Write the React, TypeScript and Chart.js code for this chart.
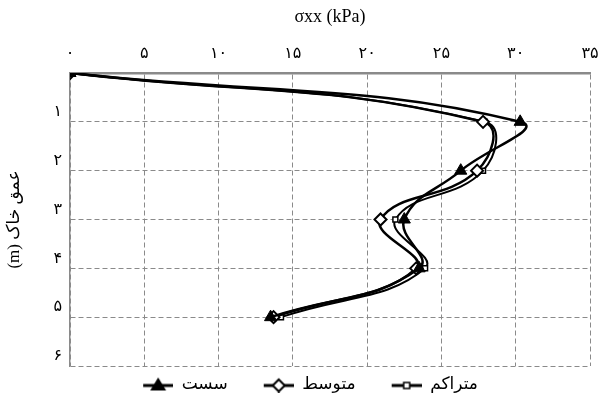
import React, { useEffect, useRef } from "react";
import { Chart, registerables } from "chart.js";

Chart.register(...registerables);

const depths = [0, 1, 2, 3, 4, 5];
const looseVals = [0, 30.3, 26.3, 22.5, 23.5, 13.5];
const mediumVals = [0, 27.8, 27.4, 20.9, 23.3, 13.7];
const denseVals = [0, 27.9, 27.8, 21.9, 23.9, 14.2];
const seriesNames = ["سست", "متوسط", "متراکم"];
const xTickLabels = ["۰", "۵", "۱۰", "۱۵", "۲۰", "۲۵", "۳۰", "۳۵"];
const yTickLabels = ["", "۱", "۲", "۳", "۴", "۵", "۶"];
const xTitle = "σxx (kPa)";
const yTitle = "\u202Bعمق خاک (m)\u202C";

const FONT = "'Liberation Serif', 'DejaVu Sans', serif";
const ICON_W = 56;
const ICON_PAD = 26;

function makeLegendIcon(kind: string): HTMLCanvasElement {
  const c = document.createElement("canvas");
  c.width = ICON_W;
  c.height = 16;
  const ctx = c.getContext("2d")!;
  const x0 = ICON_PAD;
  const cx = x0 + (ICON_W - x0) / 2;
  ctx.strokeStyle = "#000";
  ctx.lineWidth = 3;
  ctx.beginPath();
  ctx.moveTo(x0, 9);
  ctx.lineTo(ICON_W, 9);
  ctx.stroke();
  if (kind === "triangle") {
    ctx.fillStyle = "#000";
    ctx.beginPath();
    ctx.moveTo(cx, 1);
    ctx.lineTo(cx + 8, 14);
    ctx.lineTo(cx - 8, 14);
    ctx.closePath();
    ctx.fill();
  } else if (kind === "diamond") {
    ctx.fillStyle = "#fff";
    ctx.lineWidth = 2;
    ctx.beginPath();
    ctx.moveTo(cx, 3);
    ctx.lineTo(cx + 6, 9);
    ctx.lineTo(cx, 15);
    ctx.lineTo(cx - 6, 9);
    ctx.closePath();
    ctx.fill();
    ctx.stroke();
  } else {
    ctx.fillStyle = "#fff";
    ctx.lineWidth = 1.5;
    ctx.fillRect(cx - 3, 6, 6, 6);
    ctx.strokeRect(cx - 3, 6, 6, 6);
  }
  return c;
}

export default function App() {
  const ref = useRef<HTMLCanvasElement | null>(null);

  useEffect(() => {
    if (!ref.current) return;
    const icons = [makeLegendIcon("triangle"), makeLegendIcon("diamond"), makeLegendIcon("square")];
    const toPts = (vals: number[]) => vals.map((v, i) => ({ x: v, y: depths[i] }));
    const chart = new Chart(ref.current, {
      type: "line",
      data: {
        datasets: [
          {
            label: seriesNames[0],
            data: toPts(looseVals),
            borderColor: "#000",
            backgroundColor: "#000",
            borderWidth: 2.5,
            pointStyle: "triangle",
            pointRadius: 7,
            pointBorderWidth: 1,
            pointBackgroundColor: "#000",
            tension: 0.45,
          },
          {
            label: seriesNames[1],
            data: toPts(mediumVals),
            borderColor: "#000",
            backgroundColor: "#fff",
            borderWidth: 2.5,
            pointStyle: "rectRot",
            pointRadius: 6,
            pointBorderWidth: 2,
            pointBackgroundColor: "#fff",
            tension: 0.45,
          },
          {
            label: seriesNames[2],
            data: toPts(denseVals),
            borderColor: "#000",
            backgroundColor: "#fff",
            borderWidth: 2,
            pointStyle: "rect",
            pointRadius: 3.5,
            pointBorderWidth: 1.5,
            pointBackgroundColor: "#fff",
            tension: 0.45,
          },
        ],
      },
      options: {
        animation: false,
        responsive: false,
        layout: { padding: { left: 0, right: 3, top: 0, bottom: 4 } },
        plugins: {
          tooltip: { enabled: false },
          legend: {
            position: "bottom",
            fullSize: true,
            labels: {
              usePointStyle: true,
              pointStyleWidth: ICON_W,
              padding: 10,
              color: "#000",
              font: { family: FONT, size: 17 },
              generateLabels: (ch: any) => {
                const base = Chart.defaults.plugins.legend.labels.generateLabels(ch);
                return base.map((l: any, i: number) => ({ ...l, pointStyle: icons[i], lineWidth: 0 }));
              },
            },
          },
        },
        scales: {
          x: {
            type: "linear",
            position: "top",
            min: 0,
            max: 35,
            ticks: {
              stepSize: 5,
              padding: 10,
              color: "#000",
              font: { family: FONT, size: 16 },
              callback: (v: any) => xTickLabels[Math.round(v / 5)],
            },
            grid: { color: "#8a8a8a", lineWidth: 1, drawTicks: false },
            border: { display: true, color: "#8a8a8a", width: 2.5, dash: [5, 3] },
            title: {
              display: true,
              text: xTitle,
              color: "#000",
              font: { family: FONT, size: 18 },
              padding: { top: 6, bottom: 0 },
            },
            afterFit: (s: any) => {
              s.height = 73;
              s.paddingLeft = 0;
              s.paddingRight = 0;
            },
          },
          y: {
            type: "linear",
            reverse: true,
            min: 0,
            max: 6,
            ticks: {
              stepSize: 1,
              padding: 8,
              labelOffset: -10,
              color: "#000",
              font: { family: FONT, size: 16 },
              callback: (v: any) => yTickLabels[Math.round(v)],
            },
            grid: { color: "#8a8a8a", lineWidth: 1, drawTicks: false },
            border: { display: true, color: "#8a8a8a", width: 1.5, dash: [5, 3] },
            title: {
              display: true,
              text: yTitle,
              color: "#000",
              font: { family: FONT, size: 17 },
              padding: { top: 4, bottom: 0 },
            },
            afterFit: (s: any) => {
              s.width = 70;
              s.paddingTop = 0;
              s.paddingBottom = 0;
            },
          },
        },
      } as any,
    });
    return () => chart.destroy();
  }, []);

  return (
    <div style={{ position: "absolute", left: 0, top: 0, width: 598, height: 407, background: "#fff" }}>
      <canvas ref={ref} width={598} height={407} style={{ display: "block" }} />
    </div>
  );
}
